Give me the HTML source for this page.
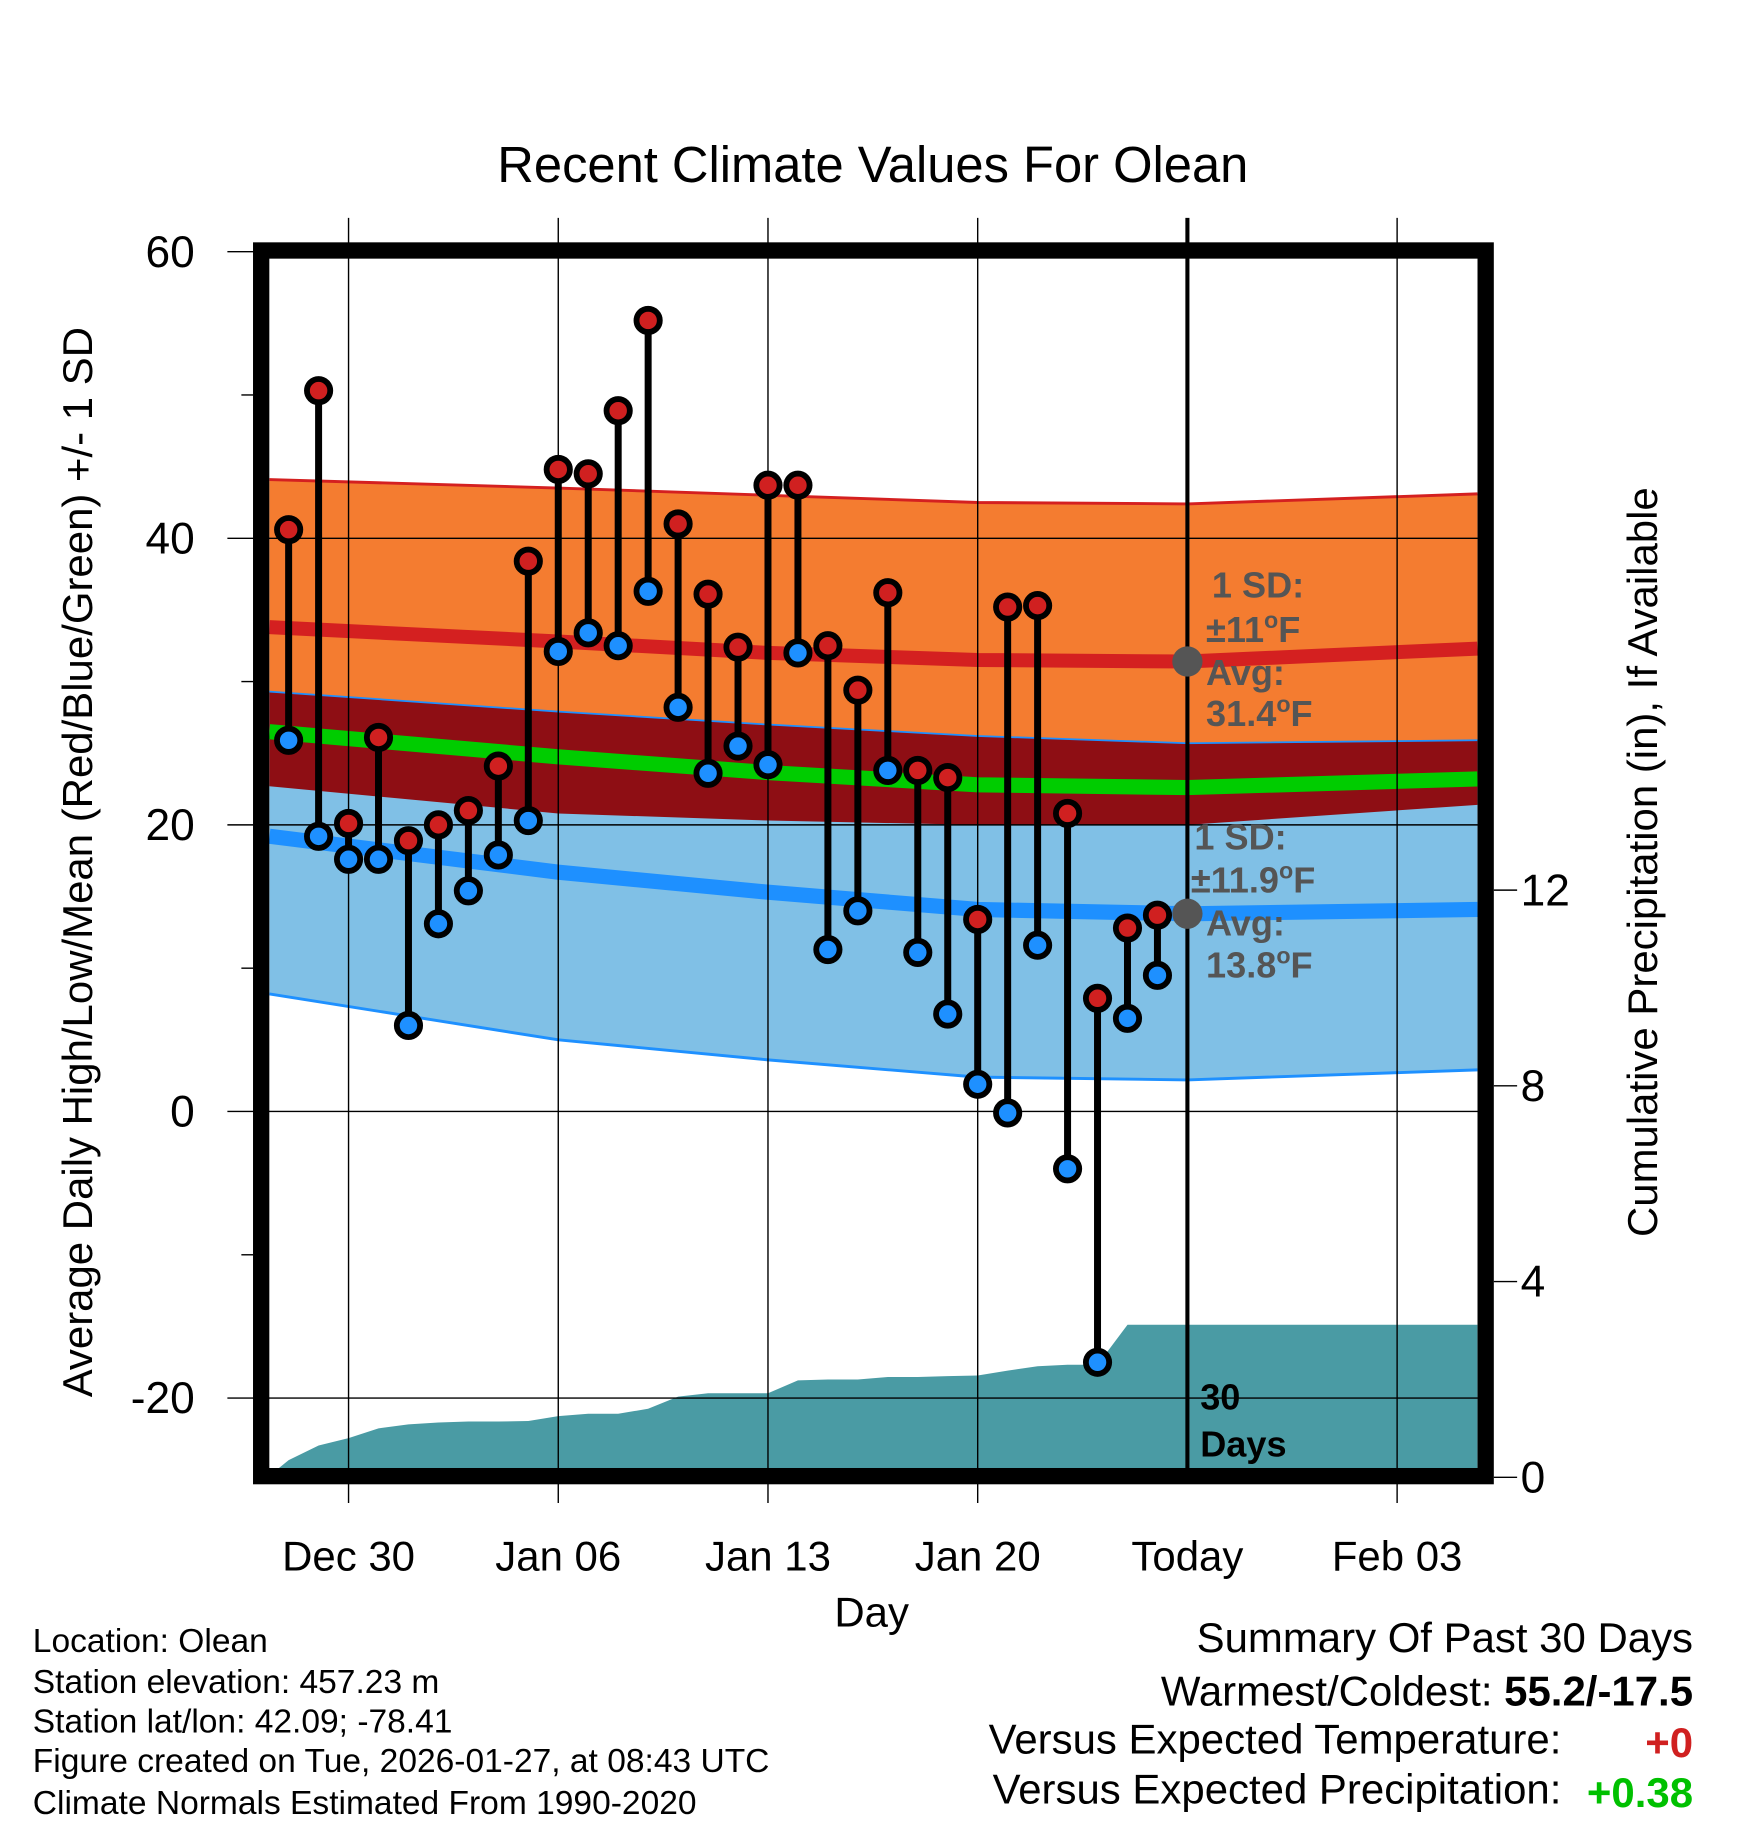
<!DOCTYPE html>
<html><head><meta charset="utf-8"><style>
html,body{margin:0;padding:0;background:#fff}
svg{display:block;font-family:"Liberation Sans",Arial,sans-serif}
</style></head><body>
<svg id="chart" width="1748" height="1828" viewBox="0 0 1500 1569" xmlns="http://www.w3.org/2000/svg">
<rect width="1500" height="1569" fill="#fff"/>
<g id="bands"></g><g id="grid"></g><g id="marks"></g><g id="frame"></g><g id="labels"></g>
</svg>
<script>
// ---- data ----
const dayLabels = ["Dec 30","Jan 06","Jan 13","Jan 20","Today","Feb 03"];
const dayLabelIdx = [3,10,17,24,31,38];
const obsDays = [1,2,3,4,5,6,7,8,9,10,11,12,13,14,15,16,17,18,19,20,21,22,23,24,25,26,27,28,29,30];
const highs = [40.6,50.3,20.1,26.1,18.9,20.0,21.0,24.1,38.4,44.8,44.5,48.9,55.2,41.0,36.1,32.4,43.7,43.7,32.5,29.4,36.2,23.8,23.3,13.4,35.2,35.3,20.8,7.9,12.8,13.7];
const lows = [25.9,19.2,17.6,17.6,6.0,13.1,15.4,17.9,20.3,32.1,33.4,32.5,36.3,28.2,23.6,25.5,24.2,32.0,11.3,14.0,23.8,11.1,6.8,1.9,-0.1,11.6,-4.0,-17.5,6.5,9.5];
const normDays = [0.36,10,17,24,31,40.68];
const highUpper = [44.1,43.5,43.0,42.5,42.4,43.1];
const highMean = [33.8,32.8,32.0,31.5,31.4,32.3];
const highLower = [22.7,20.8,20.3,20.0,20.0,21.4];
const lowUpper = [29.3,27.9,27.0,26.2,25.7,25.9];
const lowMean = [19.2,16.7,15.3,14.1,13.8,14.1];
const lowLower = [8.2,5.0,3.6,2.4,2.2,2.9];
const precipDays = [0.36,1,2,3,4,5,6,7,8,9,10,11,12,13,14,15,16,17,18,19,20,21,22,23,24,25,26,27,28,29,40.68];
const precipCum = [0.03,0.35,0.65,0.8,1.0,1.08,1.12,1.14,1.14,1.15,1.25,1.3,1.3,1.4,1.65,1.72,1.72,1.72,1.98,2.0,2.0,2.05,2.05,2.07,2.08,2.18,2.27,2.3,2.3,3.12,3.12];
const yTicks = [60,40,20,0,-20];
const yMinor = [50,30,10,-10];
const pTicks = [0,4,8,12];

// ---- axes ----
const X = d => 299 + (d-3)*180/7;
const Y = v => 954 - v*12.3;
const P = p => 1268 - p*42;
const L = 231, R = 1268, T = 222, B = 1260;
const NS = "http://www.w3.org/2000/svg";
function mk(tag, attrs, parent, txt){const e=document.createElementNS(NS,tag);for(const k in attrs)e.setAttribute(k,attrs[k]);if(txt!==undefined)e.textContent=txt;parent.appendChild(e);return e;}
const bands=document.getElementById('bands'),grid=document.getElementById('grid'),marks=document.getElementById('marks'),frame=document.getElementById('frame'),labels=document.getElementById('labels');

function pts(arr){return normDays.map((d,i)=>X(d).toFixed(1)+","+Y(arr[i]).toFixed(1));}
function area(up,lo){return pts(up).join(" ")+" "+pts(lo).reverse().join(" ");}
let e;
e=mk('polygon',{points:area(highUpper,highLower),fill:'#f47c30'},bands);

e=mk('polygon',{points:area(lowUpper,lowLower),fill:'#80c0e6'},bands);

e=mk('polygon',{points:area(lowUpper,highLower),fill:'#8e0e14'},bands);

e=mk('polyline',{points:pts(highUpper).join(" "),fill:'none',stroke:'#d42020','stroke-width':2.5},bands);

e=mk('polyline',{points:pts(lowUpper).join(" "),fill:'none',stroke:'#1e90ff','stroke-width':1.5},bands);

e=mk('polyline',{points:pts(lowLower).join(" "),fill:'none',stroke:'#1e90ff','stroke-width':2.5},bands);

e=mk('polyline',{points:pts(highMean).join(" "),fill:'none',stroke:'#d42020','stroke-width':12},bands);

e=mk('polyline',{points:pts(lowMean).join(" "),fill:'none',stroke:'#1e90ff','stroke-width':13},bands);

const midMean=highMean.map((v,i)=>(v+lowMean[i])/2);
e=mk('polyline',{points:pts(midMean).join(" "),fill:'none',stroke:'#00cc00','stroke-width':13},bands);

// precip
let pp=precipDays.map((d,i)=>X(d).toFixed(1)+","+P(precipCum[i]).toFixed(1)).join(" ");
pp+=" "+X(precipDays[precipDays.length-1]).toFixed(1)+","+B+" "+X(precipDays[0]).toFixed(1)+","+B;
e=mk('polygon',{points:pp,fill:'#4a9ba4'},bands);


// grid
dayLabelIdx.forEach((d,i)=>{
  const x=X(d);
  if(dayLabels[i]==="Today"){
    e=mk('line',{x1:x,x2:x,y1:187,y2:1268,stroke:'#000','stroke-width':3.5},frame);
    
  } else {
    e=mk('line',{x1:x,x2:x,y1:187,y2:1290,stroke:'#000','stroke-width':1.2},grid);
    
  }
  e=mk('text',{x:x,y:1348,'font-size':36,'text-anchor':'middle'},labels,dayLabels[i]);
  
});
yTicks.forEach(v=>{
  e=mk('line',{x1:195,x2:R,y1:Y(v),y2:Y(v),stroke:'#000','stroke-width':1.2},grid);
  
  e=mk('text',{x:167,y:Y(v)+13,'font-size':38,'text-anchor':'end'},labels,String(v));
  
});
yMinor.forEach(v=>{
  e=mk('line',{x1:207,x2:217,y1:Y(v),y2:Y(v),stroke:'#000','stroke-width':1.2},grid);
  
});
pTicks.forEach(p=>{
  e=mk('line',{x1:1282,x2:1302,y1:P(p),y2:P(p),stroke:'#000','stroke-width':1.2},grid);
  
  e=mk('text',{x:1305,y:P(p)+13,'font-size':38},labels,String(p));
  
});

// observations
obsDays.forEach((d,i)=>{
  const x=X(d);
  e=mk('line',{x1:x,x2:x,y1:Y(highs[i]),y2:Y(lows[i]),stroke:'#000','stroke-width':6},marks);
  
});
obsDays.forEach((d,i)=>{
  const x=X(d);
  e=mk('circle',{cx:x,cy:Y(highs[i]),r:10,fill:'#d02020',stroke:'#000','stroke-width':5},marks);
  
  e=mk('circle',{cx:x,cy:Y(lows[i]),r:10,fill:'#1e90ff',stroke:'#000','stroke-width':5},marks);
  
});
// frame
e=mk('rect',{x:224,y:215,width:1051,height:1052,fill:'none',stroke:'#000','stroke-width':14},frame);

// avg dots
e=mk('circle',{cx:X(31),cy:Y(highMean[4]),r:13,fill:'#555'},frame);

e=mk('circle',{cx:X(31),cy:Y(lowMean[4]),r:13,fill:'#555'},frame);

</script>
<script>
(function(){
const labels=document.getElementById('labels');
const NS="http://www.w3.org/2000/svg";
function t(html,name){const g=document.createElementNS(NS,'g');g.innerHTML=html;


labels.appendChild(g);}
t('<text x="749" y="156" font-size="43.5" text-anchor="middle">Recent Climate Values For Olean</text>','chart-title');
t('<text x="748" y="1396" font-size="36" text-anchor="middle">Day</text>','x-axis-title');
t('<text transform="translate(79,740) rotate(-90)" font-size="36" text-anchor="middle">Average Daily High/Low/Mean (Red/Blue/Green) +/- 1 SD</text>','y-axis-title');
t('<text transform="translate(1422,740) rotate(-90)" font-size="36" text-anchor="middle">Cumulative Precipitation (in), If Available</text>','precip-axis-title');
t('<g fill="#555" font-weight="bold" font-size="31"><text x="1040" y="513">1 SD:</text><text x="1035" y="551">±11<tspan font-size="20" dy="-12">o</tspan><tspan dy="12">F</tspan></text><text x="1035" y="588">Avg:</text><text x="1035" y="623">31.4<tspan font-size="20" dy="-12">o</tspan><tspan dy="12">F</tspan></text></g>','high-normal-annotation');
t('<g fill="#555" font-weight="bold" font-size="31"><text x="1025" y="729">1 SD:</text><text x="1022" y="766">±11.9<tspan font-size="20" dy="-12">o</tspan><tspan dy="12">F</tspan></text><text x="1035" y="803">Avg:</text><text x="1035" y="839">13.8<tspan font-size="20" dy="-12">o</tspan><tspan dy="12">F</tspan></text></g>','low-normal-annotation');
t('<g font-weight="bold" font-size="31"><text x="1030" y="1210">30</text><text x="1030" y="1250">Days</text></g>','days-label');
t('<g font-size="28.8"><text x="28" y="1418">Location: Olean</text><text x="28" y="1453">Station elevation: 457.23 m</text><text x="28" y="1487">Station lat/lon: 42.09; -78.41</text><text x="28" y="1521">Figure created on Tue, 2026-01-27, at 08:43 UTC</text><text x="28" y="1557">Climate Normals Estimated From 1990-2020</text></g>','station-info');
t('<g font-size="36" text-anchor="end"><text x="1453" y="1418">Summary Of Past 30 Days</text><text x="1453" y="1464">Warmest/Coldest: <tspan font-weight="bold">55.2/-17.5</tspan></text><text x="1340" y="1505">Versus Expected Temperature:</text><text x="1453" y="1508" fill="#d02020" font-weight="bold">+0</text><text x="1340" y="1548">Versus Expected Precipitation:</text><text x="1453" y="1551" fill="#00c000" font-weight="bold">+0.38</text></g>','summary');
})();
</script>
</body></html>
